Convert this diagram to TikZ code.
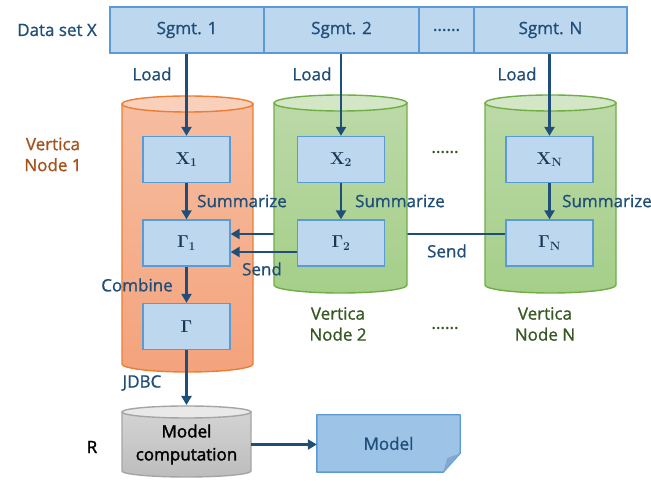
\documentclass[tikz,border=0pt]{standalone}
\usepackage[no-math]{fontspec}
\setmainfont{Open Sans}[FakeBold=1.0]
\newfontfamily\semib{Open Sans}[FakeBold=1.8]
\usetikzlibrary{arrows.meta,calc}
\definecolor{boxfill}{HTML}{BDD7EE}
\definecolor{boxline}{HTML}{5B9BD5}
\definecolor{arrc}{HTML}{1F4E79}
\definecolor{txtc}{HTML}{1F4E79}
\definecolor{orgA}{HTML}{F6BDA0}
\definecolor{orgB}{HTML}{F4A37C}
\definecolor{orgT}{HTML}{F9D0BC}
\definecolor{orgL}{HTML}{ED7D31}
\definecolor{grnA}{HTML}{BBD9A7}
\definecolor{grnB}{HTML}{A5CF89}
\definecolor{grnT}{HTML}{D3E7C6}
\definecolor{grnL}{HTML}{70AD47}
\definecolor{gryA}{HTML}{D3D3D3}
\definecolor{gryB}{HTML}{BDBDBD}
\definecolor{gryT}{HTML}{E9E9E9}
\definecolor{gryL}{HTML}{A5A5A5}
\definecolor{docfill}{HTML}{9DC3E6}
\definecolor{docfold}{HTML}{7FA8D2}
\definecolor{vnOne}{HTML}{A5521C}
\definecolor{vnTwo}{HTML}{385723}
\pgfdeclarelayer{lyA}\pgfdeclarelayer{lyB}\pgfdeclarelayer{lyC}
\pgfsetlayers{lyA,lyB,lyC,main}
\newcommand\mycyl[6]{%
  \pgfmathsetmacro\cylrx{(#2-#1)/2}%
  \draw[line width=1.4pt,draw=#6L,top color=#6A,bottom color=#6B]
    (#1,#3) -- (#1,#4) arc[start angle=180,end angle=360,x radius=\cylrx,y radius=#5] -- (#2,#3) -- cycle;
  \draw[line width=1.4pt,draw=#6L,fill=#6T] (#1+\cylrx,#3) ellipse[x radius=\cylrx,y radius=#5];
}
\tikzset{
  seg/.style={draw=boxline,fill=boxfill,line width=1.3pt,minimum height=46pt,inner sep=0pt,text=txtc},
  vbox/.style={draw=boxline,fill=boxfill,line width=1.3pt,minimum width=87pt,minimum height=46pt,inner sep=0pt,font=\fontsize{17}{19}\selectfont\boldmath,text=arrc!70!black},
  arr/.style={draw=arrc,line width=2.6pt,-{Triangle[length=9pt,width=10pt]}},
  lbl/.style={text=txtc,inner sep=0pt},
  vn/.style={align=center,inner sep=0pt,font=\fontsize{17}{21}\selectfont},
}
\begin{document}
\begin{tikzpicture}[x=1pt,y=1pt,font=\fontsize{17}{20}\selectfont]
\useasboundingbox (0,0) rectangle (651,481);
% top bar
\node[seg,minimum width=154pt] (s1) at (187,451) {Sgmt. 1};
\node[seg,minimum width=155pt] (s2) at (341.5,451) {Sgmt. 2};
\node[seg,minimum width=55pt] (sd) at (446.5,451) {......};
\node[seg,minimum width=153pt] (sN) at (550.5,451) {Sgmt. N};
\node[lbl,anchor=east] (dsx) at (97,451) {Data set X};
% cylinders
\begin{pgfonlayer}{lyA}
\mycyl{122}{253}{377}{117}{8}{org}
\mycyl{485}{616}{378}{196}{8}{grn}
\mycyl{122}{251}{69}{10}{6}{gry}
\end{pgfonlayer}
\begin{pgfonlayer}{lyC}
\mycyl{274}{407}{378}{196}{8}{grn}
\end{pgfonlayer}
% boxes
\node[vbox] (X1) at (186.5,321.5) {$\mathbf{X}_{\mathbf{1}}$};
\node[vbox] (G1) at (186.5,238) {$\mathbf{\Gamma}_{\mathbf{1}}$};
\node[vbox] (G) at (186.5,154.5) {$\mathbf{\Gamma}$};
\node[vbox] (X2) at (341,321.5) {$\mathbf{X}_{\mathbf{2}}$};
\node[vbox] (G2) at (341,238) {$\mathbf{\Gamma}_{\mathbf{2}}$};
\node[vbox] (XN) at (549.5,321.5) {$\mathbf{X}_{\mathbf{N}}$};
\node[vbox] (GN) at (549.5,238) {$\mathbf{\Gamma}_{\mathbf{N}}$};
% load
\draw[arr] (X1.north |- s1.south) -- (X1.north);
\draw[arr] (X2.north |- s2.south) -- (X2.north);
\draw[arr] (XN.north |- sN.south) -- (XN.north);
\node[lbl] (ld1) at (152,407) {Load};
\node[lbl] (ld2) at (312,407) {Load};
\node[lbl] (ldN) at (517,407) {Load};
% summarize
\draw[arr] (X1) -- (G1);
\draw[arr] (X2) -- (G2);
\draw[arr] (XN) -- (GN);
\node[lbl,anchor=west] (sm1) at (197,280) {Summarize};
\node[lbl,anchor=west] (sm2) at (355,280) {Summarize};
\node[lbl,anchor=west] (smN) at (562,280) {Summarize};
% send
\begin{pgfonlayer}{lyB}
\draw[arr] ([yshift=9pt]GN.west) -- ([yshift=9pt]G1.east);
\end{pgfonlayer}
\draw[arr] ([yshift=-9pt]G2.west) -- ([yshift=-9pt]G1.east);
\node[lbl] (snd1) at (262,212) {Send};
\node[lbl] (snd2) at (447,230) {Send};
% combine
\draw[arr] (G1) -- (G);
\node[lbl] (cmb) at (137,196) {Combine};
% node labels
\node[vn,text=vnOne] (vn1) at (53,326.5) {Vertica\\Node 1};
\node[vn,text=vnTwo] (vn2) at (338,157) {Vertica\\Node 2};
\node[vn,text=vnTwo] (vnN) at (545,157) {Vertica\\Node N};
\node[text=vnTwo,inner sep=0pt] (dt1) at (445,329) {......};
\node[text=vnTwo,inner sep=0pt] (dt2) at (445,153) {......};
% R part
\coordinate (grtop) at (186.5,76);
\draw[arr] (G) -- (grtop);
\node[lbl] (jdbc) at (142,98) {JDBC};
\node[inner sep=0pt,minimum width=129pt,minimum height=50pt,align=center,font=\fontsize{17}{23}\semib] (comp) at (186.5,36.5) {Model\\computation};
\node[inner sep=0pt,font=\fontsize{17}{20}\semib] (rl) at (92,34) {R};
\node[minimum width=143pt,minimum height=57pt,inner sep=0pt,text=txtc] (mdl) at (388.5,37.5) {Model};
\begin{pgfonlayer}{lyA}
\draw[line width=1.4pt,draw=boxline,fill=docfill,line join=round]
  (mdl.north west) -- (mdl.north east) -- ([yshift=19pt]mdl.south east)
  -- ([xshift=-17pt]mdl.south east) -- (mdl.south west) -- cycle;
\fill[docfold] ([yshift=19pt]mdl.south east) -- ([xshift=-17pt]mdl.south east) -- ([xshift=-13pt,yshift=14pt]mdl.south east) -- cycle;
\end{pgfonlayer}
\draw[arr] (comp.east) -- (comp.east -| mdl.west);
\end{tikzpicture}
\end{document}
